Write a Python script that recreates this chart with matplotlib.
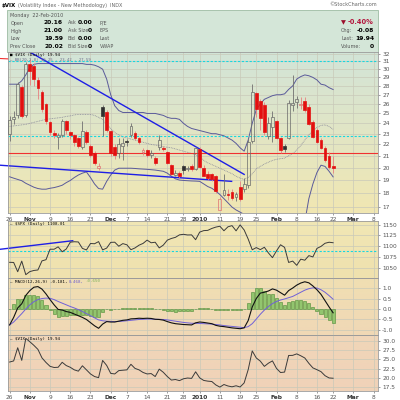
import numpy as np
import pandas as pd
import matplotlib
matplotlib.use("Agg")
import matplotlib.pyplot as plt
from matplotlib.patches import Rectangle
from matplotlib.colors import LinearSegmentedColormap
from matplotlib.ticker import NullFormatter, FixedLocator

# trading days shown on the chart (future days leave the blank space on the right)
holidays = ["2009-11-26", "2009-12-25", "2010-01-01", "2010-01-18", "2010-02-15"]
days = pd.bdate_range("2009-10-26", "2010-03-09")
days = days[~days.isin(pd.to_datetime(holidays))]

# $VIX daily candles, 26-Oct-2009 .. 22-Feb-2010
vix_open = [23.0, 24.4, 24.8, 27.9, 24.8, 30.6, 30.4, 28.7, 27.3, 26.0,
            24.1, 23.1, 22.7, 22.9, 24.2, 23.2, 22.9, 22.6, 21.8, 23.2,
            21.9, 21.2, 20.0, 25.7, 25.2, 23.3, 21.8, 21.25, 21.9, 22.35,
            22.9, 23.1, 22.6, 21.3, 21.5, 21.1, 20.8, 21.8, 21.7, 21.3,
            20.2, 19.4, 19.55, 20.1, 19.85, 20.15, 19.9, 21.6, 20.0, 19.5,
            19.45, 19.3, 16.8, 17.9, 17.95, 18.1, 17.7, 18.5, 18.3, 18.6,
            22.3, 27.2, 26.3, 25.9, 22.8, 23.6, 24.2, 22.6, 21.9, 22.6,
            25.9, 26.2, 25.9, 26.3, 25.7, 24.1, 23.4, 22.4, 21.7, 21.0,
            20.16]
vix_high = [24.7, 25.3, 28.4, 28.1, 30.9, 31.3, 30.8, 29.0, 27.5, 26.1,
            24.2, 23.4, 23.1, 24.4, 24.3, 23.3, 23.0, 22.7, 24.2, 23.4,
            22.0, 21.4, 20.4, 25.9, 25.4, 23.4, 22.0, 22.6, 22.6, 22.5,
            24.0, 23.3, 22.7, 21.7, 21.6, 21.5, 21.0, 22.9, 21.9, 21.4,
            20.3, 19.8, 19.7, 20.2, 20.1, 20.3, 21.8, 21.8, 20.2, 19.7,
            19.6, 19.4, 17.7, 19.45, 18.3, 18.3, 18.1, 18.9, 19.2, 22.5,
            28.2, 27.3, 26.5, 26.2, 24.6, 25.3, 24.3, 22.7, 22.0, 26.4,
            29.3, 26.9, 26.8, 26.7, 26.0, 24.3, 23.5, 22.6, 21.9, 21.3,
            21.00]
vix_low = [22.3, 23.9, 24.5, 24.5, 24.6, 28.1, 28.0, 26.5, 25.2, 23.9,
           22.9, 22.6, 21.6, 22.7, 23.0, 22.5, 21.9, 21.7, 21.6, 22.0,
           20.9, 20.2, 19.8, 22.8, 23.2, 21.0, 20.7, 20.8, 20.6, 21.9,
           22.7, 22.4, 22.0, 21.1, 20.9, 20.8, 20.2, 21.5, 21.4, 20.3,
           19.4, 19.3, 19.2, 19.5, 19.7, 19.7, 19.8, 20.0, 19.3, 19.0,
           18.9, 18.0, 16.8, 17.8, 17.5, 17.5, 17.4, 17.4, 18.1, 18.4,
           22.1, 24.6, 23.4, 22.9, 22.5, 22.2, 22.5, 21.2, 21.3, 22.5,
           25.3, 25.6, 25.5, 25.2, 23.8, 22.6, 22.1, 21.6, 20.5, 19.9,
           19.59]
vix_close = [24.31, 24.61, 28.17, 24.76, 30.69, 29.78, 28.81, 27.72, 25.43, 24.19,
             23.15, 22.84, 22.90, 24.24, 23.36, 22.89, 22.20, 21.85, 23.30, 22.20,
             21.10, 20.40, 20.10, 24.74, 23.40, 21.25, 21.10, 22.00, 22.10, 22.20,
             23.70, 22.60, 22.20, 21.50, 21.10, 21.20, 20.40, 22.40, 21.55, 20.40,
             19.45, 19.60, 19.30, 19.80, 20.00, 19.90, 21.68, 20.04, 19.35, 19.16,
             19.06, 18.13, 17.55, 18.25, 17.85, 17.63, 17.91, 17.58, 18.68, 22.27,
             27.31, 25.41, 24.55, 23.14, 24.00, 24.62, 22.59, 21.48, 21.60, 26.08,
             26.11, 26.51, 26.00, 25.40, 23.96, 22.73, 22.25, 21.72, 20.63, 20.02,
             19.94]

# Bollinger bands (20, 2.0)
bb_upper = [28.2, 28.2, 28.2, 28.6, 29.3, 30.2, 30.6, 30.7, 30.7, 30.7,
            30.7, 30.7, 30.7, 30.7, 30.7, 30.7, 30.7, 30.7, 30.7, 30.6,
            30.6, 30.5, 30.3, 30.0, 28.8, 27.0, 25.8, 25.3, 25.1, 25.1,
            25.1, 25.1, 25.1, 25.1, 25.0, 25.0, 25.0, 24.9, 24.8, 24.6,
            24.5, 24.5, 24.4, 24.0, 23.7, 23.5, 23.4, 23.3, 23.2, 23.1,
            23.0, 23.0, 22.9, 22.8, 22.6, 22.4, 22.1, 21.7, 21.4, 22.4,
            24.0, 25.4, 26.0, 26.5, 26.7, 26.9, 27.0, 27.0, 27.1, 27.6,
            28.0, 28.8, 29.1, 29.3, 29.2, 29.0, 28.7, 28.2, 28.1, 27.8,
            27.59]
bb_mid = [23.7, 23.75, 23.8, 23.85, 23.9, 24.0, 24.1, 24.2, 24.3, 24.4,
          24.45, 24.5, 24.55, 24.6, 24.7, 24.75, 24.85, 24.9, 24.9, 24.9,
          24.9, 24.8, 24.6, 24.4, 23.9, 23.5, 23.1, 22.9, 22.7, 22.6,
          22.5, 22.4, 22.3, 22.2, 22.1, 22.0, 21.95, 21.9, 21.8, 21.75,
          21.7, 21.6, 21.5, 21.4, 21.3, 21.2, 21.1, 20.9, 20.6, 20.4,
          20.25, 20.1, 19.95, 19.8, 19.65, 19.5, 19.3, 19.15, 19.05, 19.2,
          19.5, 19.9, 20.1, 20.3, 20.45, 20.6, 20.7, 20.75, 20.8, 21.0,
          21.2, 21.5, 21.9, 22.4, 22.9, 23.3, 23.6, 23.8, 23.85, 23.7,
          23.42]
bb_lower = [19.26, 19.15, 19.05, 18.95, 18.75, 18.6, 18.45, 18.35, 18.3, 18.3,
            18.37, 18.42, 18.5, 18.6, 18.8, 18.97, 19.2, 19.4, 19.55, 19.65,
            19.2, 18.7, 18.35, 18.3, 18.9, 19.4, 19.8, 19.95, 19.95, 19.95,
            19.95, 19.93, 19.9, 19.88, 19.86, 19.83, 19.8, 19.75, 19.7, 19.55,
            19.3, 19.1, 19.0, 18.97, 18.95, 18.93, 18.92, 18.9, 18.7, 18.5,
            18.37, 18.15, 17.9, 17.6, 17.3, 17.0, 16.8, 16.65, 16.5, 16.2,
            15.6, 15.0, 14.6, 14.3, 14.2, 14.2, 14.3, 14.5, 14.6, 14.7,
            14.8, 15.0, 15.2, 16.0, 17.6, 18.7, 19.6, 20.2, 20.1, 19.7,
            19.25]

# $SPX daily close
spx_close = [1063.41, 1063.11, 1042.63, 1066.11, 1036.19, 1042.88, 1045.41, 1046.50, 1066.63, 1069.30,
             1093.08, 1093.01, 1098.51, 1087.24, 1093.48, 1109.30, 1110.32, 1109.80, 1094.90, 1091.38,
             1106.24, 1105.65, 1110.63, 1091.49, 1095.63, 1108.86, 1109.24, 1099.92, 1105.98, 1103.25,
             1091.94, 1095.95, 1102.35, 1106.41, 1114.11, 1107.93, 1109.18, 1096.08, 1102.47, 1114.05,
             1118.02, 1120.59, 1126.48, 1127.78, 1126.20, 1126.42, 1115.10, 1132.99, 1136.52, 1137.14,
             1141.69, 1144.98, 1146.98, 1136.22, 1145.68, 1148.46, 1136.03, 1150.23, 1138.04, 1116.48,
             1091.76, 1096.78, 1092.17, 1097.50, 1084.53, 1073.87, 1089.19, 1103.32, 1097.28, 1063.11,
             1066.19, 1056.74, 1070.52, 1068.13, 1078.47, 1075.51, 1094.87, 1099.51, 1106.75, 1109.17,
             1108.01]

# MACD(12,26,9) of $VIX
macd_line = [-0.76, -0.40, 0.05, 0.25, 0.65, 0.88, 1.04, 1.07, 0.95, 0.72,
             0.45, 0.20, -0.02, -0.05, -0.12, -0.16, -0.24, -0.32, -0.40, -0.50,
             -0.65, -0.80, -0.92, -0.72, -0.60, -0.62, -0.62, -0.58, -0.54, -0.52,
             -0.47, -0.46, -0.44, -0.45, -0.44, -0.45, -0.49, -0.50, -0.53, -0.60,
             -0.66, -0.70, -0.72, -0.74, -0.75, -0.76, -0.66, -0.62, -0.64, -0.67,
             -0.70, -0.78, -0.82, -0.84, -0.87, -0.90, -0.92, -0.94, -0.90, -0.55,
             0.10, 0.50, 0.76, 0.80, 0.86, 0.96, 0.90, 0.78, 0.66, 0.88,
             1.00, 1.14, 1.24, 1.30, 1.25, 1.10, 0.92, 0.70, 0.40, 0.10,
             -0.181]
macd_signal = [-0.76, -0.62, -0.42, -0.22, 0.0, 0.20, 0.35, 0.45, 0.50, 0.52,
               0.51, 0.45, 0.36, 0.28, 0.20, 0.12, 0.05, -0.03, -0.12, -0.22,
               -0.32, -0.42, -0.52, -0.56, -0.58, -0.59, -0.60, -0.59, -0.58, -0.56,
               -0.54, -0.52, -0.50, -0.49, -0.48, -0.48, -0.49, -0.49, -0.50, -0.52,
               -0.55, -0.58, -0.61, -0.64, -0.66, -0.68, -0.68, -0.69, -0.70, -0.71,
               -0.72, -0.74, -0.76, -0.79, -0.81, -0.83, -0.85, -0.87, -0.89, -0.84,
               -0.70, -0.48, -0.25, -0.05, 0.12, 0.26, 0.36, 0.43, 0.48, 0.54,
               0.60, 0.70, 0.80, 0.90, 0.97, 1.01, 1.00, 0.92, 0.80, 0.64,
               0.468]
macd_hist = [0.0, 0.22, 0.47, 0.47, 0.65, 0.68, 0.69, 0.62, 0.45, 0.20,
             -0.06, -0.25, -0.38, -0.33, -0.32, -0.28, -0.29, -0.29, -0.28, -0.28,
             -0.33, -0.38, -0.40, -0.16, -0.02, -0.03, -0.02, 0.01, 0.04, 0.04,
             0.07, 0.06, 0.06, 0.04, 0.04, 0.03, 0.0, -0.01, -0.03, -0.08,
             -0.11, -0.12, -0.11, -0.10, -0.09, -0.08, 0.02, 0.07, 0.06, 0.04,
             0.02, -0.04, -0.06, -0.05, -0.06, -0.07, -0.07, -0.07, -0.01, 0.29,
             0.80, 0.98, 1.01, 0.85, 0.74, 0.70, 0.54, 0.35, 0.18, 0.34,
             0.40, 0.44, 0.44, 0.40, 0.28, 0.09, -0.08, -0.22, -0.40, -0.54,
             -0.650]

tick_dates = ["2009-10-26", "2009-11-02", "2009-11-09", "2009-11-16", "2009-11-23",
              "2009-12-01", "2009-12-07", "2009-12-14", "2009-12-21", "2009-12-28",
              "2010-01-04", "2010-01-11", "2010-01-19", "2010-01-25", "2010-02-01",
              "2010-02-08", "2010-02-16", "2010-02-22", "2010-03-01", "2010-03-08"]
tick_text = ["26", "Nov", "9", "16", "23", "Dec", "7", "14", "21", "28",
             "2010", "11", "19", "25", "Feb", "8", "16", "22", "Mar", "8"]
bold_ticks = {"Nov", "Dec", "2010", "Feb", "Mar"}

# drawn annotations (levels / trendline end points)
cyan_levels = [31.0, 22.77]
red_level = 21.25
trend_hi = (["2009-11-02", "2010-01-20"], [32.2, 19.45])
trend_lo = ([-2.43, 54.9], [20.2, 18.9])
spx_cyan = 1088.9
spx_trend = ([-2.43, 15.6], [1092.8, 1112.7])

x = np.arange(len(vix_close))
ticks = days.get_indexer(pd.to_datetime(tick_dates))
XL = (-0.4, 91.1)

RED = "#e30f0f"
DARK = "#303030"
GRID = "#c9c9b9"
SP = "#9a9a9a"

fig = plt.figure(figsize=(4, 4), dpi=100)
fig.patch.set_facecolor("white")


def panel(top, bottom, c_top, c_bot):
    rect = [8 / 400, 1 - bottom / 400, 370 / 400, (bottom - top) / 400]
    bg = fig.add_axes(rect, zorder=0)
    cmap = LinearSegmentedColormap.from_list("bg", [c_bot, c_top])
    bg.imshow(np.linspace(1, 0, 100).reshape(-1, 1), cmap=cmap, aspect="auto",
              extent=(0, 1, 0, 1))
    bg.axis("off")
    ax = fig.add_axes(rect, zorder=1)
    ax.set_facecolor("none")
    ax.set_xlim(*XL)
    for s in ax.spines.values():
        s.set_color(SP)
        s.set_linewidth(0.6)
    ax.yaxis.tick_right()
    ax.tick_params(axis="y", labelsize=4.2, length=1.5, width=0.4, pad=1.5,
                   colors="#555555")
    ax.tick_params(axis="x", labelsize=4.2, length=1.5, width=0.4, pad=1.2,
                   colors="#555555")
    ax.set_xticks(ticks)
    ax.xaxis.grid(True, color=GRID, lw=0.5)
    ax.yaxis.grid(True, color=GRID, lw=0.5)
    ax.set_axisbelow(True)
    return ax


def date_labels(ax):
    ax.set_xticklabels(tick_text)
    for lab in ax.get_xticklabels():
        if lab.get_text() in bold_ticks:
            lab.set_fontweight("bold")
            lab.set_color("#333333")


# ---------------- main price panel ----------------
ax1 = panel(52, 213, "#d2e4d8", "#f1e7b2")
ax1.set_yscale("log")
ax1.set_ylim(16.59, 32.2)
ax1.yaxis.set_major_locator(FixedLocator(range(17, 33)))
ax1.yaxis.set_minor_locator(FixedLocator([]))
ax1.yaxis.set_major_formatter(matplotlib.ticker.FuncFormatter(lambda v, p: "%d" % v))
ax1.yaxis.set_minor_formatter(NullFormatter())
date_labels(ax1)

ax1.plot(x, bb_upper, color="#5a5a9a", lw=0.7)
ax1.plot(x, bb_lower, color="#5a5a9a", lw=0.7)
ax1.plot(x, bb_mid, color="#8a8a9a", lw=0.6, ls=(0, (1, 1)))

for lv in cyan_levels:
    ax1.axhline(lv, color="#19d7e0", lw=0.8, ls=(0, (2, 1.5)))
ax1.axhline(red_level, color="#f03030", lw=0.8)

tx = days.get_indexer(pd.to_datetime(trend_hi[0]))
ax1.plot(tx, trend_hi[1], color="#1e1ee6", lw=1.0)
ax1.plot(trend_lo[0], trend_lo[1], color="#1e1ee6", lw=1.0, clip_on=False)
ax1.plot([-2.4, -0.4], [31.35, 31.3], color="#f03030", lw=0.8, clip_on=False)

prev = np.r_[vix_open[0], vix_close[:-1]]
for i in x:
    o, h, l, c = vix_open[i], vix_high[i], vix_low[i], vix_close[i]
    col = RED if c < prev[i] else DARK
    top, bot = max(o, c), min(o, c)
    wick = "#e88080" if col == RED else "#707070"
    ax1.vlines(i, top, h, color=wick, lw=0.6, zorder=3)
    ax1.vlines(i, l, bot, color=wick, lw=0.6, zorder=3)
    filled = c < o
    ax1.bar(i, max(top - bot, 0.06), bottom=bot, width=0.7,
            facecolor=col if filled else "none",
            edgecolor=col if filled else ("#e07070" if col == RED else "#6a6a6a"),
            lw=0.5, zorder=4)

# ---------------- $SPX panel ----------------
ax2 = panel(221, 278, "#f1e7b5", "#efe1ae")
ax2.set_yscale("log")
ax2.set_ylim(1029, 1159.7)
ax2.yaxis.set_major_locator(FixedLocator([1050, 1075, 1100, 1125, 1150]))
ax2.yaxis.set_minor_locator(FixedLocator([]))
ax2.yaxis.set_major_formatter(matplotlib.ticker.FuncFormatter(lambda v, p: "%d" % v))
ax2.yaxis.set_minor_formatter(NullFormatter())
ax2.set_xticklabels([])
ax2.tick_params(axis="x", length=0)
ax2.axhline(spx_cyan, color="#19d7e0", lw=0.8, ls=(0, (2, 1.5)))
ax2.plot(spx_trend[0], spx_trend[1], color="#1e1ee6", lw=1.0, clip_on=False)
ax2.plot(x, spx_close, color="#3a3a3a", lw=0.7)

# ---------------- MACD panel ----------------
ax3 = panel(278, 335, "#f0dfb2", "#f0d8b6")
ax3.set_ylim(-1.24, 1.48)
ax3.set_yticks([-1.0, -0.5, 0.0, 0.5, 1.0])
ax3.yaxis.set_major_formatter(matplotlib.ticker.FormatStrFormatter("%.1f"))
ax3.set_xticklabels([])
ax3.tick_params(axis="x", length=0)
ax3.bar(x, macd_hist, width=0.75, color="#92c56e", edgecolor="#4e8a36", lw=0.4, zorder=2)
ax3.plot(x, macd_signal, color="#7060d8", lw=0.7, zorder=3)
ax3.plot(x, macd_line, color="#111111", lw=0.8, zorder=4)

# ---------------- $VIX close line panel ----------------
ax4 = panel(335, 391, "#f0d6b8", "#f0d2b8")
ax4.set_ylim(16.5, 31.6)
ax4.set_yticks([17.5, 20.0, 22.5, 25.0, 27.5, 30.0])
ax4.yaxis.set_major_formatter(matplotlib.ticker.FormatStrFormatter("%.1f"))
date_labels(ax4)
ax4.plot(x, vix_close, color="#3a3a3a", lw=0.7)

# ---------------- header ----------------
def fx(px):
    return px / 400


def fy(py):
    return 1 - py / 400


LBL = 3.5
VAL = 4.3
fig.add_artist(Rectangle((fx(7), fy(52)), fx(371), 42 / 400, transform=fig.transFigure,
                         facecolor="#d4e6d8", edgecolor="#9dbca3", lw=0.6, zorder=0))
fig.text(fx(2), fy(5.5), "$VIX", fontsize=4.0, fontweight="bold", va="center")
fig.text(fx(18), fy(5.5), "(Volatility Index - New Methodology)  INDX", fontsize=3.5,
         color="#666666", va="center")
fig.text(fx(377), fy(5), "\u00a9StockCharts.com", fontsize=3.6, color="#666666",
         ha="right", va="center")
fig.text(fx(10.5), fy(15), "Monday  22-Feb-2010", fontsize=LBL, color="#555555", va="center")

rows_y = [23, 31, 39, 46.5]
col1 = ["Open", "High", "Low", "Prev Close"]
val1 = ["20.16", "21.00", "19.59", "20.02"]
col2 = ["Ask", "Ask Size", "Bid", "Bid Size"]
val2 = ["0.00", "0", "0.00", "0"]
col3 = ["P/E", "EPS", "Last", "VWAP"]
for ry, a, b, c, d, e in zip(rows_y, col1, val1, col2, val2, col3):
    fig.text(fx(10.5), fy(ry), a, fontsize=LBL, color="#555555", va="center")
    fig.text(fx(63), fy(ry), b, fontsize=VAL, fontweight="bold", ha="right", va="center")
    fig.text(fx(67.5), fy(ry), c, fontsize=LBL, color="#555555", va="center")
    fig.text(fx(92), fy(ry), d, fontsize=VAL, fontweight="bold", ha="right", va="center")
    fig.text(fx(100), fy(ry), e, fontsize=LBL, color="#555555", va="center")

fig.text(fx(341), fy(22.5), "\u25bc", fontsize=4.6, color="#9b0e2a", va="center")
fig.text(fx(374), fy(22.5), "-0.40%", fontsize=4.8, fontweight="bold", color="#b3143c",
         ha="right", va="center")
for ry, a, b in zip([30.5, 38.5, 46.5], ["Chg:", "Last:", "Volume:"], ["-0.08", "19.94", "0"]):
    fig.text(fx(341), fy(ry), a, fontsize=LBL, color="#555555", va="center")
    fig.text(fx(374), fy(ry), b, fontsize=VAL, fontweight="bold", ha="right", va="center")

# panel legends
MONO = "DejaVu Sans Mono"
LEG = 3.0
fig.text(fx(9.5), fy(55), "\u25a0 $VIX (Daily) 19.94", fontsize=LEG, family=MONO, va="center")
fig.text(fx(9.5), fy(59.8), "\u2014 BB(20,2.0) 19.25 - 23.42 - 27.59", fontsize=2.8,
         family=MONO, color="#6a6a8a", va="center")
fig.text(fx(9.5), fy(224.5), "\u2014 $SPX (Daily) 1108.01", fontsize=LEG, family=MONO, va="center")
fig.text(fx(9.5), fy(281.5), "\u2014 MACD(12,26,9) -0.181,", fontsize=LEG, family=MONO, va="center")
fig.text(fx(68.5), fy(281.5), "0.468,", fontsize=LEG, family=MONO, color="#6a5ad0", va="center")
fig.text(fx(85.5), fy(281.5), "-0.650", fontsize=LEG, family=MONO, color="#7db35a", va="center")
fig.text(fx(9.5), fy(339), "\u2014 $VIX (Daily) 19.94", fontsize=LEG, family=MONO, va="center")

fig.savefig("out.png", dpi=100)
